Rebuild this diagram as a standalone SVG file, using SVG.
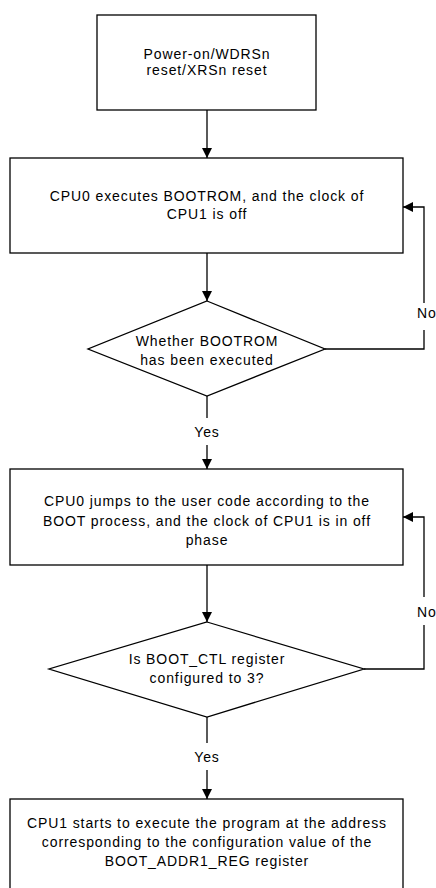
<svg xmlns="http://www.w3.org/2000/svg" width="436" height="888" viewBox="0 0 436 888">
<defs>
<marker id="arr" markerUnits="userSpaceOnUse" markerWidth="10" markerHeight="10" viewBox="0 0 10 10" refX="10" refY="5" orient="auto">
<path d="M0,0 L10,5 L0,10 z" fill="#000"/>
</marker>
<style>
.box{fill:#fff;stroke:#000;stroke-width:1.3}
.ln{fill:none;stroke:#000;stroke-width:1.3}
text{font-family:"Liberation Sans",Arial,sans-serif;font-size:14px;letter-spacing:0.9px;fill:#000;text-anchor:middle}
.lbl{text-anchor:start}
</style>
</defs>
<rect width="436" height="888" fill="#fff"/>
<g id="connectors">
<line class="ln" x1="207" y1="110" x2="207" y2="158" marker-end="url(#arr)"/>
<line class="ln" x1="207" y1="253" x2="207" y2="301" marker-end="url(#arr)"/>
<polyline class="ln" points="325,349 424,349 424,330"/>
<polyline class="ln" points="424,303 424,207 403,207" marker-end="url(#arr)"/>
<text class="lbl" x="417" y="318">No</text>
<line class="ln" x1="207" y1="396" x2="207" y2="418"/>
<text x="207" y="437">Yes</text>
<line class="ln" x1="207" y1="445" x2="207" y2="469" marker-end="url(#arr)"/>
<line class="ln" x1="207" y1="565" x2="207" y2="622" marker-end="url(#arr)"/>
<polyline class="ln" points="364,669 424,669 424,625"/>
<polyline class="ln" points="424,597 424,517 403,517" marker-end="url(#arr)"/>
<text class="lbl" x="417" y="617">No</text>
<line class="ln" x1="207" y1="717" x2="207" y2="743"/>
<text x="207" y="762">Yes</text>
<line class="ln" x1="207" y1="770" x2="207" y2="799" marker-end="url(#arr)"/>
</g>
<g id="n1">
<rect class="box" x="97" y="15" width="219" height="95"/>
<text x="207" y="59">Power-on/WDRSn</text>
<text x="207" y="75">reset/XRSn reset</text>
</g>
<g id="n2">
<rect class="box" x="10" y="158" width="393" height="95"/>
<text x="207" y="201">CPU0 executes BOOTROM, and the clock of</text>
<text x="207" y="219">CPU1 is off</text>
</g>
<g id="n3">
<polygon class="box" points="207,301 325,349 207,396 88,349"/>
<text x="207" y="346">Whether BOOTROM</text>
<text x="207" y="365">has been executed</text>
</g>
<g id="n4">
<rect class="box" x="10" y="469" width="393" height="96"/>
<text x="207" y="506">CPU0 jumps to the user code according to the</text>
<text x="207" y="526">BOOT process, and the clock of CPU1 is in off</text>
<text x="207" y="545">phase</text>
</g>
<g id="n5">
<polygon class="box" points="207,622 364,669 207,717 49,669"/>
<text x="207" y="664">Is BOOT_CTL register</text>
<text x="207" y="683">configured to 3?</text>
</g>
<g id="n6">
<rect class="box" x="10" y="799" width="393" height="100"/>
<text x="207" y="828">CPU1 starts to execute the program at the address</text>
<text x="207" y="847">corresponding to the configuration value of the</text>
<text x="207" y="866">BOOT_ADDR1_REG register</text>
</g>
</svg>
